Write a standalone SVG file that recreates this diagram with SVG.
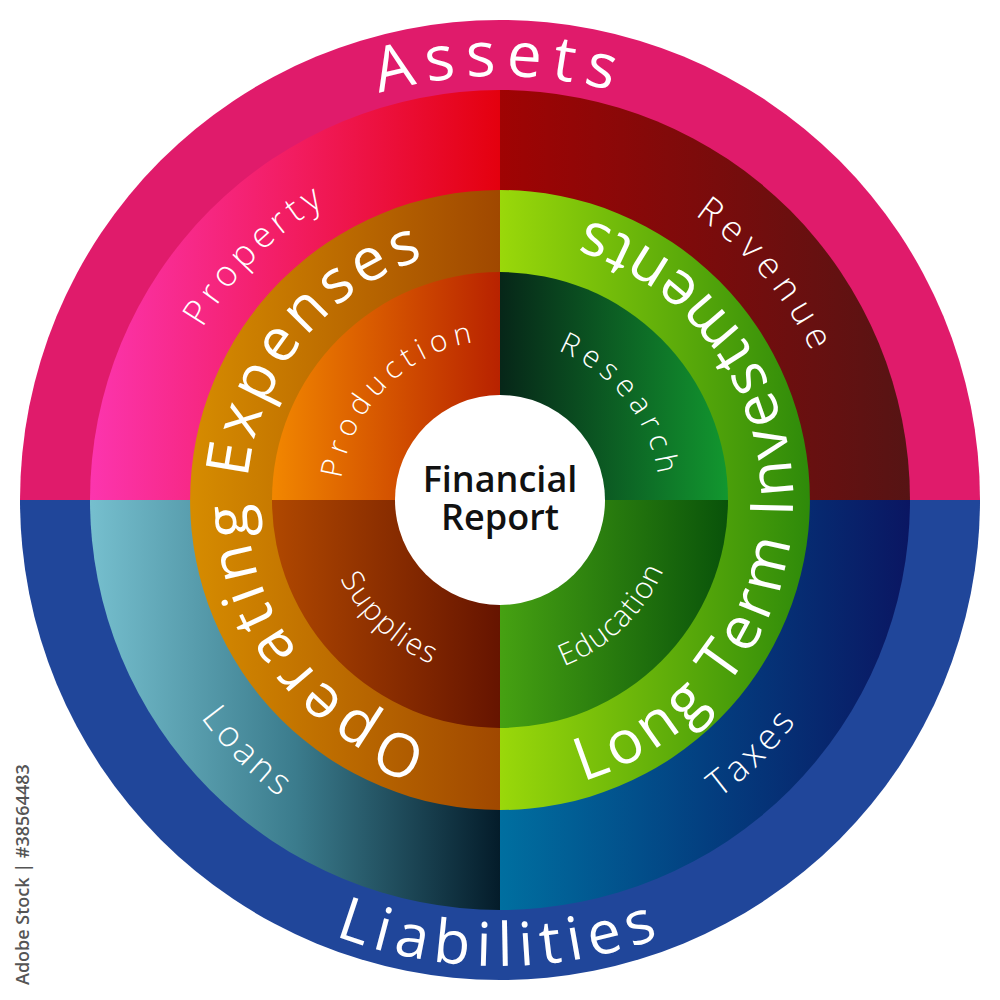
<svg xmlns="http://www.w3.org/2000/svg" xmlns:xlink="http://www.w3.org/1999/xlink" width="1000" height="1000" viewBox="0 0 1000 1000">
<defs>
<style>
.t{font-family:"Open Sans","Noto Sans","DejaVu Sans",sans-serif;fill:#fff}
.big{font-size:62px;letter-spacing:10px}
.mid{font-size:60px;letter-spacing:5px}
.lbl{font-size:36px;font-weight:300}
.sm{font-size:30px;font-weight:300}
.ctr{font-family:"Open Sans","Noto Sans","DejaVu Sans",sans-serif;font-size:36px;font-weight:600;fill:#111}
.wm{font-family:"Open Sans","Noto Sans","DejaVu Sans",sans-serif;font-size:18px;font-weight:600;fill:#555}
</style>
<linearGradient id="g2tl" gradientUnits="userSpaceOnUse" x1="90" y1="0" x2="500" y2="0"><stop offset="0" stop-color="#FC35AE"/><stop offset="0.5" stop-color="#F21C60"/><stop offset="1" stop-color="#E4000E"/></linearGradient>
<linearGradient id="g2tr" gradientUnits="userSpaceOnUse" x1="500" y1="0" x2="910" y2="0"><stop offset="0" stop-color="#A00303"/><stop offset="1" stop-color="#561414"/></linearGradient>
<linearGradient id="g2bl" gradientUnits="userSpaceOnUse" x1="90" y1="0" x2="500" y2="0"><stop offset="0" stop-color="#76BFCE"/><stop offset="0.5" stop-color="#3B7C8D"/><stop offset="1" stop-color="#041C2A"/></linearGradient>
<linearGradient id="g2br" gradientUnits="userSpaceOnUse" x1="500" y1="0" x2="910" y2="0"><stop offset="0" stop-color="#006FA0"/><stop offset="0.5" stop-color="#033F80"/><stop offset="1" stop-color="#0A1662"/></linearGradient>
<linearGradient id="g3l" gradientUnits="userSpaceOnUse" x1="190" y1="0" x2="500" y2="0"><stop offset="0" stop-color="#D68C00"/><stop offset="1" stop-color="#A04800"/></linearGradient>
<linearGradient id="g3r" gradientUnits="userSpaceOnUse" x1="500" y1="0" x2="810" y2="0"><stop offset="0" stop-color="#9AD80A"/><stop offset="1" stop-color="#2E8A0A"/></linearGradient>
<linearGradient id="g4tl" gradientUnits="userSpaceOnUse" x1="272" y1="0" x2="500" y2="0"><stop offset="0" stop-color="#F28700"/><stop offset="1" stop-color="#B82200"/></linearGradient>
<linearGradient id="g4tr" gradientUnits="userSpaceOnUse" x1="500" y1="0" x2="728" y2="0"><stop offset="0" stop-color="#062618"/><stop offset="1" stop-color="#12972F"/></linearGradient>
<linearGradient id="g4bl" gradientUnits="userSpaceOnUse" x1="272" y1="0" x2="500" y2="0"><stop offset="0" stop-color="#B04800"/><stop offset="1" stop-color="#661400"/></linearGradient>
<linearGradient id="g4br" gradientUnits="userSpaceOnUse" x1="500" y1="0" x2="728" y2="0"><stop offset="0" stop-color="#46A112"/><stop offset="1" stop-color="#09530A"/></linearGradient>
<path id="pAssets" d="M76,500 A424,424 0 0 1 924,500"/>
<path id="pLiab" d="M34,500 A466,466 0 0 0 966,500"/>
<path id="pProp" d="M256.05,743.95 A345,345 0 0 1 743.95,256.05"/>
<path id="pRev" d="M278.2,235.7 A345,345 0 0 1 721.8,764.3"/>
<path id="pLoans" d="M236.96,236.96 A372,372 0 0 0 763.04,763.04"/>
<path id="pTaxes" d="M236.96,763.04 A372,372 0 0 0 763.04,236.96"/>
<path id="pOpEx" d="M500,753 A253,253 0 0 1 500,247"/>
<path id="pLTI" d="M500,793 A293,293 0 0 0 500,207"/>
<path id="pProd" d="M386.86,613.14 A160,160 0 0 1 613.14,386.86"/>
<path id="pRes" d="M401.5,373.9 A160,160 0 0 1 598.5,626.1"/>
<path id="pSup" d="M369.8,378.6 A178,178 0 0 0 630.2,621.4"/>
<path id="pEdu" d="M371.96,623.66 A178,178 0 0 0 628.04,376.34"/>
</defs>

<g id="assets"><path d="M20,500 A480,480 0 0 1 980,500 Z" fill="#E01B6B"/></g>
<g id="liabilities"><path d="M980,500 A480,480 0 0 1 20,500 Z" fill="#20469A"/></g>

<g id="property"><path d="M500,500 L90,500 A410,410 0 0 1 500,90 Z" fill="url(#g2tl)"/></g>
<g id="revenue"><path d="M500,500 L500,90 A410,410 0 0 1 910,500 Z" fill="url(#g2tr)"/></g>
<g id="taxes"><path d="M500,500 L910,500 A410,410 0 0 1 500,910 Z" fill="url(#g2br)"/></g>
<g id="loans"><path d="M500,500 L500,910 A410,410 0 0 1 90,500 Z" fill="url(#g2bl)"/></g>

<g id="operating-expenses"><path d="M500,810 A310,310 0 0 1 500,190 Z" fill="url(#g3l)"/></g>
<g id="long-term-investments"><path d="M500,190 A310,310 0 0 1 500,810 Z" fill="url(#g3r)"/></g>

<g id="production"><path d="M500,500 L272,500 A228,228 0 0 1 500,272 Z" fill="url(#g4tl)"/></g>
<g id="research"><path d="M500,500 L500,272 A228,228 0 0 1 728,500 Z" fill="url(#g4tr)"/></g>
<g id="education"><path d="M500,500 L728,500 A228,228 0 0 1 500,728 Z" fill="url(#g4br)"/></g>
<g id="supplies"><path d="M500,500 L500,728 A228,228 0 0 1 272,500 Z" fill="url(#g4bl)"/></g>

<g id="financial-report"><circle cx="500" cy="500" r="105" fill="#fff"/>
<text class="ctr" x="500" y="492" text-anchor="middle">Financial</text>
<text class="ctr" x="500" y="530" text-anchor="middle">Report</text></g>

<g id="labels">
<text class="t big"><textPath xlink:href="#pAssets" startOffset="50%" text-anchor="middle">Assets</textPath></text>
<text class="t big" style="letter-spacing:7px;font-size:60px"><textPath xlink:href="#pLiab" startOffset="50%" text-anchor="middle">Liabilities</textPath></text>
<text class="t lbl" style="letter-spacing:5px"><textPath xlink:href="#pProp" startOffset="50%" text-anchor="middle">Property</textPath></text>
<text class="t lbl" style="letter-spacing:7px"><textPath xlink:href="#pRev" startOffset="50%" text-anchor="middle">Revenue</textPath></text>
<text class="t lbl" style="letter-spacing:4px"><textPath xlink:href="#pLoans" startOffset="50%" text-anchor="middle">Loans</textPath></text>
<text class="t lbl" style="letter-spacing:4px"><textPath xlink:href="#pTaxes" startOffset="50%" text-anchor="middle">Taxes</textPath></text>
<text class="t mid"><textPath xlink:href="#pOpEx" startOffset="50%" text-anchor="middle">Operating Expenses</textPath></text>
<text class="t mid" style="letter-spacing:4.5px"><textPath xlink:href="#pLTI" startOffset="50%" text-anchor="middle">Long Term Investments</textPath></text>
<text class="t sm" style="letter-spacing:6px"><textPath xlink:href="#pProd" startOffset="50%" text-anchor="middle">Production</textPath></text>
<text class="t sm" style="letter-spacing:6px"><textPath xlink:href="#pRes" startOffset="50%" text-anchor="middle">Research</textPath></text>
<text class="t sm" style="letter-spacing:2px"><textPath xlink:href="#pSup" startOffset="50%" text-anchor="middle">Supplies</textPath></text>
<text class="t sm" style="letter-spacing:1px"><textPath xlink:href="#pEdu" startOffset="50%" text-anchor="middle">Education</textPath></text>
</g>

<text class="wm" transform="translate(29,985) rotate(-90)">Adobe Stock | #38564483</text>
</svg>
